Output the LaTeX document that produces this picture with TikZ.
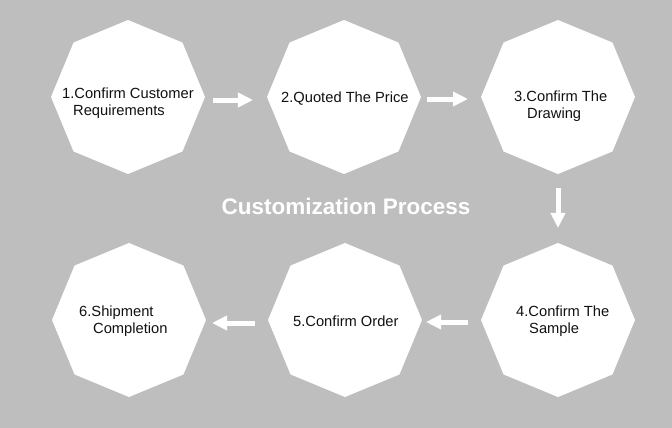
\documentclass[tikz,border=0pt]{standalone}
\usepackage{fontspec}
\setmainfont{Liberation Sans}
\usetikzlibrary{shapes.geometric,arrows.meta}
\definecolor{bg}{RGB}{190,190,190}
\definecolor{txt}{RGB}{17,17,17}
\tikzset{
  oct/.style={shape=regular polygon, regular polygon sides=8, shape border rotate=22.5,
    minimum size=154pt, inner sep=0pt, outer sep=0pt, fill=white, draw=none},
  lbl/.style={anchor=north west, inner sep=0pt, align=left, text=txt,
    font=\fontsize{14.7}{17}\selectfont},
  flow/.style={draw=white, line width=5pt, -{Triangle[length=15pt,width=14pt]}},
  ttl/.style={text=white, font=\fontsize{22.5}{26}\selectfont\bfseries, inner sep=0pt}
}
\begin{document}
\begin{tikzpicture}[x=1pt,y=-1pt]
\useasboundingbox (0,0) rectangle (672,428);
\fill[bg] (0,0) rectangle (672,428);
\node[oct] (n1) at (128,97) {};
\node[oct] (n2) at (344,97) {};
\node[oct] (n3) at (558,97) {};
\node[oct] (n4) at (558,320) {};
\node[oct] (n5) at (345,320) {};
\node[oct] (n6) at (129,320) {};
\node[lbl] (t1) at (62,88) {1.Confirm Customer\\\hspace*{11pt}Requirements};
\node[lbl] (t2) at (281,92) {2.Quoted The Price};
\node[lbl] (t3) at (514,91) {3.Confirm The\\\hspace*{13pt}Drawing};
\node[lbl] (t4) at (516,306) {4.Confirm The\\\hspace*{13pt}Sample};
\node[lbl] (t5) at (293,316) {5.Confirm Order};
\node[lbl] (t6) at (79,306) {6.Shipment\\\hspace*{14pt}Completion};
\node[ttl] (title) at (346,206) {Customization Process};
\draw[flow, shorten <=8pt, shorten >=14pt] ([yshift=-3pt]n1.east) -- ([yshift=-3pt]n2.west);
\draw[flow, shorten <=6pt, shorten >=13pt] ([yshift=-2pt]n2.east) -- ([yshift=-2pt]n3.west);
\draw[flow, shorten <=14pt, shorten >=15pt] (n3.south) -- (n4.north);
\draw[flow, shorten <=13pt, shorten >=4pt] ([yshift=-2pt]n4.west) -- ([yshift=-2pt]n5.east);
\draw[flow, shorten <=13pt, shorten >=6pt] ([yshift=-3pt]n5.west) -- ([yshift=-3pt]n6.east);
\end{tikzpicture}
\end{document}
